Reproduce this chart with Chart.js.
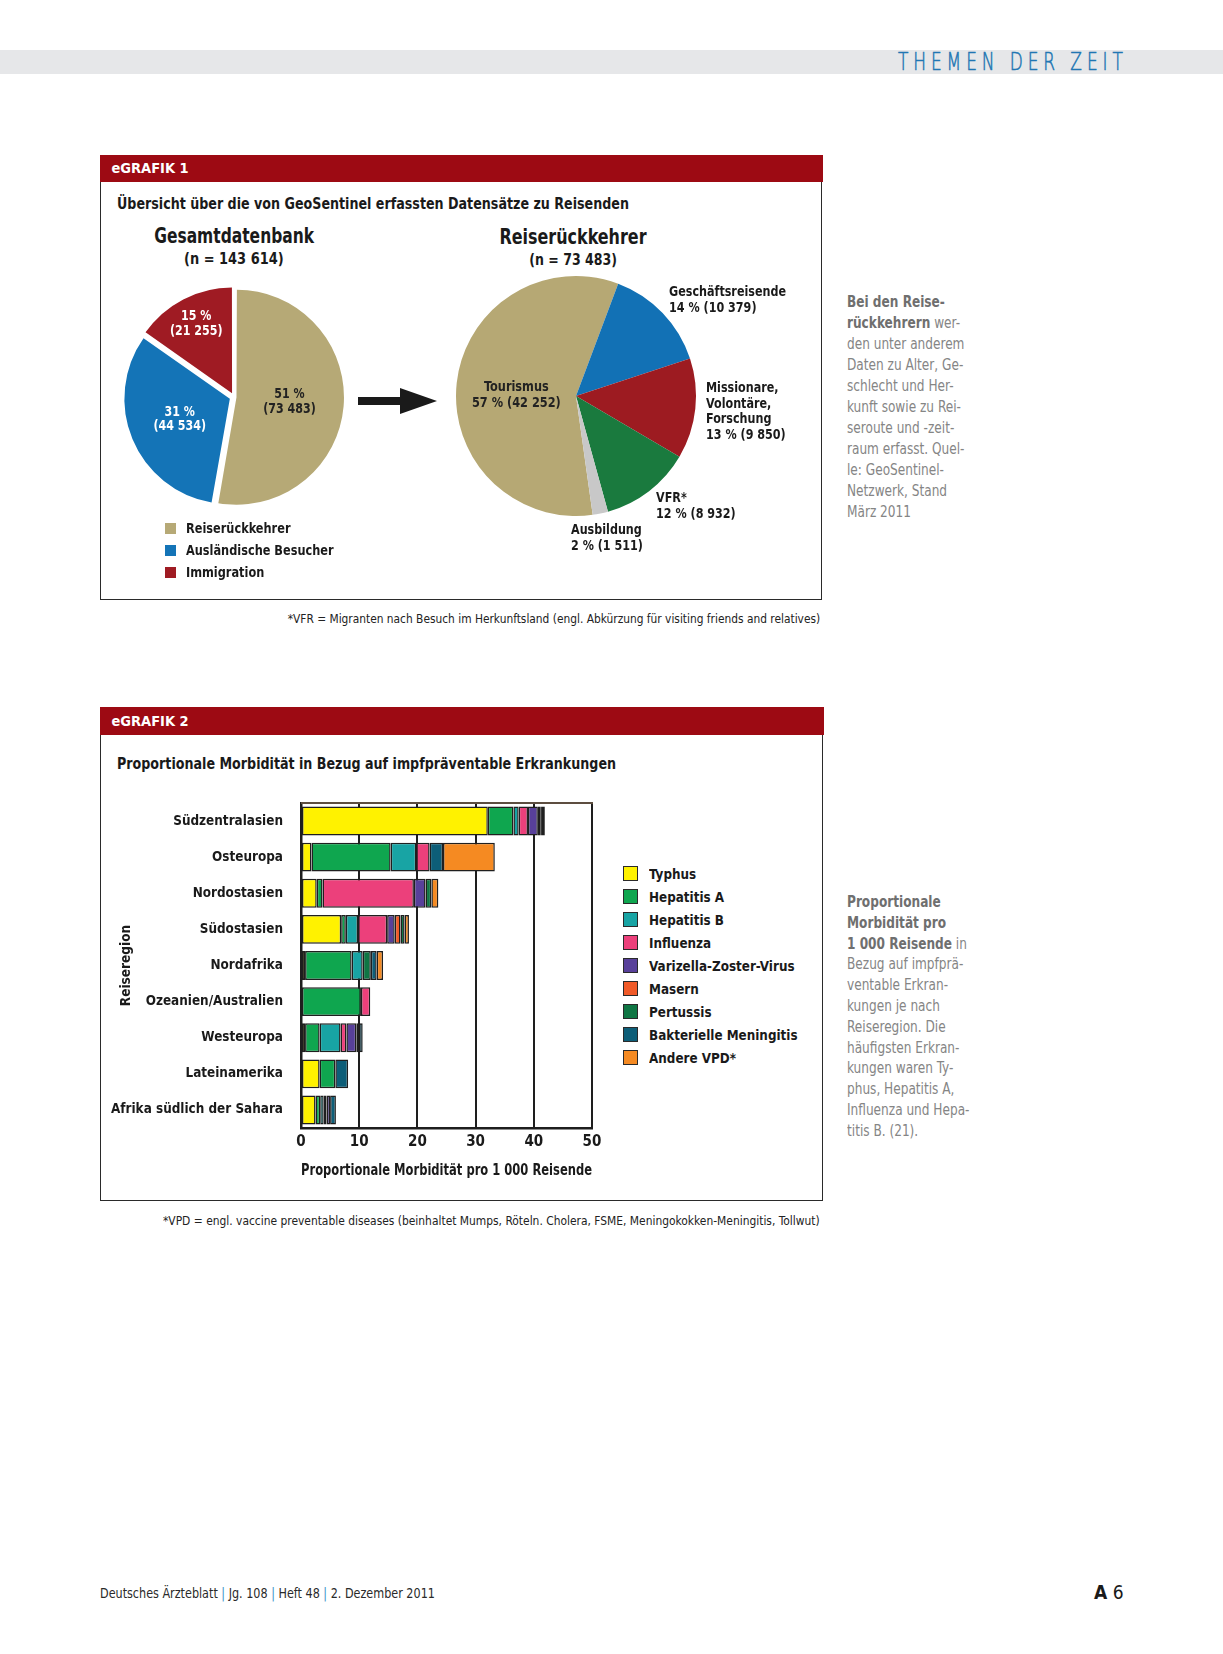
<!DOCTYPE html>
<html lang="de"><head><meta charset="utf-8">
<script src="https://cdn.jsdelivr.net/npm/chart.js@4.4.1/dist/chart.umd.min.js"></script>
<style>
html,body{margin:0;padding:0;background:#fff;}
body{width:1223px;height:1654px;position:relative;overflow:hidden;font-family:"Liberation Sans Narrow","Arial Narrow","DejaVu Sans Condensed",sans-serif;color:#1a1a1a;}
.abs{position:absolute;white-space:nowrap;}
.b{font-weight:bold;}
.sx{display:inline-block;transform-origin:left center;}
.box{position:absolute;box-sizing:border-box;border:1.5px solid #2a2a2a;background:#fff;}
.hdr{position:absolute;left:-1.5px;right:-1.5px;top:-1.5px;background:#9d0a13;color:#fff;font-weight:bold;font-size:14.5px;padding-left:12px;box-sizing:border-box;}
.lbl{position:absolute;white-space:nowrap;font-weight:bold;font-size:13.5px;line-height:15.5px;color:#1a1a1a;transform:scaleX(0.92);transform-origin:left top;}
.side{position:absolute;left:847px;font-size:15.5px;color:#858585;white-space:nowrap;transform:scaleX(0.87);transform-origin:left top;}
.side b{color:#6f6f6f;}
.lg1{position:absolute;font-weight:bold;font-size:14px;line-height:16px;white-space:nowrap;}
.lg1 i{position:absolute;left:-21px;top:3px;width:11px;height:11px;}
.lg1 span{display:inline-block;transform:scaleX(0.9);transform-origin:left center;}
.lg2{position:absolute;left:623px;font-weight:bold;font-size:14.8px;line-height:17px;white-space:nowrap;}
.lg2 i{position:absolute;left:0;top:0;width:15px;height:15px;border:1.5px solid #2a2a2a;box-sizing:border-box;}
.lg2 span{position:absolute;left:26px;top:-1px;display:inline-block;transform:scaleX(0.9);transform-origin:left center;}
canvas{position:absolute;}
</style></head>
<body>
<script>
// ---------- DATA ----------
const gesamtKategorien = ['Reiserückkehrer', 'Ausländische Besucher', 'Immigration'];
const gesamtWerte = [73483, 44534, 21255];
const gesamtProzent = ['51 %', '31 %', '15 %'];

const rueckkehrerKategorien = ['Tourismus', 'Geschäftsreisende', 'Missionare, Volontäre, Forschung', 'VFR*', 'Ausbildung'];
const rueckkehrerWerte = [42252, 10379, 9850, 8932, 1511];
const rueckkehrerProzent = ['57 %', '14 %', '13 %', '12 %', '2 %'];

const regionen = ['Südzentralasien', 'Osteuropa', 'Nordostasien', 'Südostasien', 'Nordafrika', 'Ozeanien/Australien', 'Westeuropa', 'Lateinamerika', 'Afrika südlich der Sahara'];
const krankheiten = ['Typhus', 'Hepatitis A', 'Hepatitis B', 'Influenza', 'Varizella-Zoster-Virus', 'Masern', 'Pertussis', 'Bakterielle Meningitis', 'Andere VPD*'];
const typhus               = [32.1, 1.8,  2.7, 6.9, 0.7, 0,    0.7, 3.2, 2.5];
const hepatitisA           = [4.4, 13.6,  1.0, 0.8, 8.0, 10.3, 2.5, 2.7, 0.8];
const hepatitisB           = [0.9,  4.4,  0,   2.1, 1.9, 0,    3.6, 0,   0.6];
const influenza            = [1.6,  2.3, 15.7, 5.0, 0,   1.6,  1.0, 0,   0.5];
const varizella            = [1.7,  0,    2.0, 1.3, 0,   0,    1.7, 0,   0.6];
const masern               = [0.4,  0,    0,   1.0, 0,   0,    0.5, 0,   0];
const pertussis            = [0.3,  0,    1.0, 0.7, 1.4, 0,    0,   0,   0];
const bakterielleMeningitis= [0.5,  2.3,  0,   0,   1.0, 0,    0.6, 2.2, 1.0];
const andereVPD            = [0,    8.9,  1.2, 0.75,1.1, 0,    0,   0,   0];
const xTicks = [0, 10, 20, 30, 40, 50];
</script>

<!-- page header -->
<div class="abs" style="left:0;top:50px;width:1223px;height:24px;background:#e6e7e9;"></div>
<div class="abs" style="left:898px;top:49px;font-family:'DejaVu Sans',sans-serif;font-weight:200;font-size:25px;line-height:26px;letter-spacing:7.2px;color:#2176b3;-webkit-text-stroke:0.6px #2176b3;transform:scaleX(0.68);transform-origin:left top;">THEMEN DER ZEIT</div>

<!-- eGRAFIK 1 -->
<div class="box" style="left:100px;top:155px;width:722px;height:445px;">
  <div class="hdr" style="height:27px;line-height:27px;">eGRAFIK 1</div>
</div>
<div class="abs b" style="left:117px;top:195px;font-size:15.5px;line-height:18px;"><span class="sx" style="transform:scaleX(0.91);">Übersicht über die von GeoSentinel erfassten Datensätze zu Reisenden</span></div>
<div class="abs b" style="left:84px;width:300px;text-align:center;top:224px;font-size:20.5px;line-height:24px;"><span class="sx" style="transform:scaleX(0.84);transform-origin:center;">Gesamtdatenbank</span></div>
<div class="abs b" style="left:84px;width:300px;text-align:center;top:250px;font-size:15px;line-height:18px;"><span class="sx" style="transform:scaleX(0.96);transform-origin:center;">(n = 143 614)</span></div>
<div class="abs b" style="left:423px;width:300px;text-align:center;top:225px;font-size:20.5px;line-height:24px;"><span class="sx" style="transform:scaleX(0.865);transform-origin:center;">Reiserückkehrer</span></div>
<div class="abs b" style="left:423px;width:300px;text-align:center;top:251px;font-size:15px;line-height:18px;"><span class="sx" style="transform:scaleX(0.93);transform-origin:center;">(n = 73 483)</span></div>

<canvas id="pie1" width="260" height="260" style="left:104px;top:267px;"></canvas>
<canvas id="pie2" width="260" height="260" style="left:446px;top:266px;"></canvas>

<svg class="abs" style="left:350px;top:380px;" width="95" height="42">
  <polygon points="8,17 50,17 50,8 87,21 50,34 50,25 8,25" fill="#1a1a1a"/>
</svg>

<div class="lbl" id="lblGesch" style="left:669px;top:284px;"></div>
<div class="lbl" id="lblMiss" style="left:706px;top:380px;"></div>
<div class="lbl" id="lblVFR" style="left:656px;top:490px;"></div>
<div class="lbl" id="lblAus" style="left:571px;top:522px;"></div>

<div id="legend1"></div>

<div class="abs" style="right:403px;top:611px;font-size:13px;line-height:16px;color:#222;transform:scaleX(0.91);transform-origin:right top;">*VFR = Migranten nach Besuch im Herkunftsland (engl. Abkürzung für visiting friends and relatives)</div>

<!-- eGRAFIK 2 -->
<div class="box" style="left:100px;top:707px;width:723px;height:494px;">
  <div class="hdr" style="height:28px;line-height:28px;">eGRAFIK 2</div>
</div>
<div class="abs b" style="left:117px;top:755px;font-size:15.5px;line-height:18px;"><span class="sx" style="transform:scaleX(0.91);">Proportionale Morbidität in Bezug auf impfpräventable Erkrankungen</span></div>
<canvas id="bars" width="500" height="400" style="left:105px;top:795px;"></canvas>
<div id="legend2"></div>

<div class="abs" style="right:403px;top:1213px;font-size:13px;line-height:16px;color:#222;transform:scaleX(0.915);transform-origin:right top;">*VPD = engl. vaccine preventable diseases (beinhaltet Mumps, Röteln. Cholera, FSME, Meningokokken-Meningitis, Tollwut)</div>

<!-- side texts -->
<div class="side" style="top:292px;line-height:21px;"><b>Bei den Reise-</b><br><b>rückkehrern</b> wer-<br>den unter anderem<br>Daten zu Alter, Ge-<br>schlecht und Her-<br>kunft sowie zu Rei-<br>seroute und -zeit-<br>raum erfasst. Quel-<br>le: GeoSentinel-<br>Netzwerk, Stand<br>März 2011</div>
<div class="side" style="top:892px;line-height:20.8px;"><b>Proportionale</b><br><b>Morbidität pro</b><br><b>1 000 Reisende</b> in<br>Bezug auf impfprä-<br>ventable Erkran-<br>kungen je nach<br>Reiseregion. Die<br>häufigsten Erkran-<br>kungen waren Ty-<br>phus, Hepatitis A,<br>Influenza und Hepa-<br>titis B. (21).</div>

<!-- footer -->
<div class="abs" style="left:100px;top:1584px;font-size:14px;line-height:18px;color:#2a2a2a;transform:scaleX(0.89);transform-origin:left top;">Deutsches Ärzteblatt <span style="color:#3a8fc8;">|</span> Jg. 108 <span style="color:#3a8fc8;">|</span> Heft 48 <span style="color:#3a8fc8;">|</span> 2. Dezember 2011</div>
<div class="abs" style="left:1094px;top:1581px;font-size:19px;line-height:22px;color:#1a1a1a;"><b>A</b> 6</div>

<script>
const FONT = '"Liberation Sans Narrow","Arial Narrow","DejaVu Sans Condensed",sans-serif';
Chart.defaults.font.family = FONT;
Chart.defaults.color = '#1a1a1a';

const fmt = n => String(n).replace(/\B(?=(\d{3})+(?!\d))/g, ' ');

const gesamtFarben = ['#b6a976', '#1474b7', '#9f1b23'];
const rueckFarben = ['#b6a874', '#1271b5', '#9d1b21', '#1a7a3e', '#c8c8c8'];
const diseaseColors = ['#fff200', '#0fa64f', '#18a4a4', '#ec407b', '#58409a', '#f05a28', '#0f7644', '#0d5e78', '#f58a22'];

function innerLabelPlugin(items) {
  return {
    id: 'innerLabels',
    afterDatasetsDraw(chart) {
      const ctx = chart.ctx;
      const arcs = chart.getDatasetMeta(0).data;
      items.forEach(it => {
        const a = arcs[it.index];
        const mid = (a.startAngle + a.endAngle) / 2;
        const d = it.f * a.outerRadius;
        const x = a.x + Math.cos(mid) * d;
        const y = a.y + Math.sin(mid) * d + (it.dy || 0);
        ctx.save();
        ctx.translate(x, y);
        ctx.scale(it.sx || 1, 1);
        ctx.fillStyle = it.color;
        ctx.font = 'bold 14px ' + FONT;
        ctx.textAlign = 'center';
        ctx.textBaseline = 'middle';
        it.lines.forEach((ln, i) => ctx.fillText(ln, 0, (i - (it.lines.length - 1) / 2) * it.lh));
        ctx.restore();
      });
    }
  };
}

// left pie
new Chart(document.getElementById('pie1'), {
  type: 'pie',
  data: { labels: gesamtKategorien, datasets: [{ data: gesamtWerte, backgroundColor: gesamtFarben, borderWidth: 0, offset: [10, 18, 17] }] },
  options: {
    responsive: false, animation: false, events: [], radius: 105, rotation: 0,
    layout: { padding: 0 },
    plugins: { legend: { display: false }, tooltip: { enabled: false } }
  },
  plugins: [innerLabelPlugin([
    { index: 0, f: 0.53, sx: 0.88, color: '#222', lh: 15, lines: [gesamtProzent[0], '(' + fmt(gesamtWerte[0]) + ')'] },
    { index: 1, f: 0.56, sx: 0.88, color: '#fff', lh: 14.5, lines: [gesamtProzent[1], '(' + fmt(gesamtWerte[1]) + ')'] },
    { index: 2, f: 0.78, sx: 0.88, color: '#fff', lh: 15, lines: [gesamtProzent[2], '(' + fmt(gesamtWerte[2]) + ')'] }
  ])]
});

// right pie
new Chart(document.getElementById('pie2'), {
  type: 'pie',
  data: { labels: rueckkehrerKategorien, datasets: [{ data: rueckkehrerWerte, backgroundColor: rueckFarben, borderWidth: 0 }] },
  options: {
    responsive: false, animation: false, events: [], radius: 120, rotation: 172,
    layout: { padding: 0 },
    plugins: { legend: { display: false }, tooltip: { enabled: false } }
  },
  plugins: [innerLabelPlugin([
    { index: 0, f: 0.5, dy: 6, sx: 0.9, color: '#222', lh: 16.5, lines: [rueckkehrerKategorien[0], rueckkehrerProzent[0] + ' (' + fmt(rueckkehrerWerte[0]) + ')'] }
  ])]
});

document.getElementById('lblGesch').innerHTML = rueckkehrerKategorien[1] + '<br>' + rueckkehrerProzent[1] + ' (' + fmt(rueckkehrerWerte[1]) + ')';
document.getElementById('lblMiss').innerHTML = 'Missionare,<br>Volontäre,<br>Forschung<br>' + rueckkehrerProzent[2] + ' (' + fmt(rueckkehrerWerte[2]) + ')';
document.getElementById('lblVFR').innerHTML = rueckkehrerKategorien[3] + '<br>' + rueckkehrerProzent[3] + ' (' + fmt(rueckkehrerWerte[3]) + ')';
document.getElementById('lblAus').innerHTML = rueckkehrerKategorien[4] + '<br>' + rueckkehrerProzent[4] + ' (' + fmt(rueckkehrerWerte[4]) + ')';

// legend 1
const lg1 = document.getElementById('legend1');
gesamtKategorien.forEach((k, i) => {
  const d = document.createElement('div');
  d.className = 'lg1';
  d.style.left = '186px';
  d.style.top = (520 + i * 22) + 'px';
  d.innerHTML = '<i style="background:' + gesamtFarben[i] + '"></i><span>' + k + '</span>';
  lg1.appendChild(d);
});

// bar chart
const series = [typhus, hepatitisA, hepatitisB, influenza, varizella, masern, pertussis, bakterielleMeningitis, andereVPD];
const topLine = {
  id: 'topLine',
  afterDraw(chart) {
    const { ctx, chartArea: a } = chart;
    ctx.save();
    ctx.strokeStyle = '#5d4e40';
    ctx.lineWidth = 2;
    ctx.beginPath(); ctx.moveTo(a.left, a.top); ctx.lineTo(a.right + 1, a.top); ctx.stroke();
    ctx.restore();
  }
};
new Chart(document.getElementById('bars'), {
  type: 'bar',
  data: {
    labels: regionen,
    datasets: series.map((s, i) => ({
      label: krankheiten[i], data: s, backgroundColor: diseaseColors[i],
      borderColor: '#1f1f1f', borderWidth: 1.5, borderSkipped: false,
      categoryPercentage: 0.8, barPercentage: 1.0
    }))
  },
  options: {
    indexAxis: 'y', responsive: false, animation: false, events: [],
    layout: { padding: { top: 8, right: 13, left: 0, bottom: 0 } },
    plugins: { legend: { display: false }, tooltip: { enabled: false } },
    scales: {
      x: {
        stacked: true, min: xTicks[0], max: xTicks[xTicks.length - 1],
        afterBuildTicks: s => { s.ticks = xTicks.map(v => ({ value: v })); },
        ticks: { color: '#1a1a1a', font: { size: 15, weight: 'bold' }, padding: 5, maxRotation: 0 },
        grid: { color: '#1e1e1e', lineWidth: 2, drawTicks: false },
        border: { display: true, color: '#1e1e1e', width: 2.5 },
        title: { display: true, text: 'Proportionale Morbidität pro 1 000 Reisende', color: '#1a1a1a', font: { size: 15, weight: 'bold' }, padding: { top: 0, bottom: 15 } },
        afterFit: s => { s.height = 67; s.paddingLeft = 0; s.paddingRight = 0; }
      },
      y: {
        stacked: true,
        ticks: { color: '#1a1a1a', font: { size: 13.4, weight: 'bold' }, padding: 18 },
        grid: { display: false, drawTicks: false },
        border: { display: true, color: '#1e1e1e', width: 2.5 },
        title: { display: true, text: 'Reiseregion', color: '#1a1a1a', font: { size: 13.5, weight: 'bold' }, padding: { top: 13, bottom: 0 } },
        afterFit: s => { s.width = 196; s.paddingTop = 0; s.paddingBottom = 0; }
      }
    }
  },
  plugins: [topLine]
});

// legend 2
const lg2 = document.getElementById('legend2');
krankheiten.forEach((k, i) => {
  const d = document.createElement('div');
  d.className = 'lg2';
  d.style.top = (866 + i * 23) + 'px';
  d.innerHTML = '<i style="background:' + diseaseColors[i] + '"></i><span>' + k + '</span>';
  lg2.appendChild(d);
});
</script>
</body></html>
